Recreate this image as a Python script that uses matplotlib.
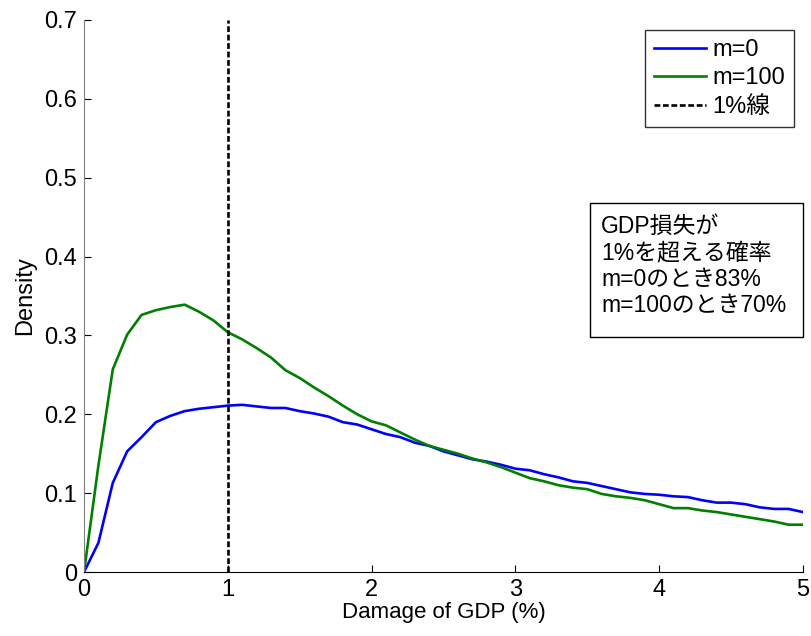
import numpy as np
import matplotlib
matplotlib.use("Agg")
import matplotlib.pyplot as plt
from matplotlib.patches import Rectangle

plt.rcParams["font.family"] = ["Liberation Sans", "Noto Sans CJK JP", "DejaVu Sans"]

# damage of GDP (%) grid
x = np.round(np.arange(0, 5.01, 0.1), 1)

# m=0 density
m0 = [0.000, 0.037, 0.113, 0.153, 0.171, 0.190, 0.198, 0.204, 0.207, 0.209,
      0.211, 0.212, 0.210, 0.208, 0.208, 0.204, 0.201, 0.197, 0.190, 0.187,
      0.181, 0.175, 0.171, 0.164, 0.160, 0.153, 0.148, 0.143, 0.140, 0.136,
      0.131, 0.129, 0.124, 0.120, 0.115, 0.113, 0.109, 0.105, 0.101, 0.099,
      0.098, 0.096, 0.095, 0.091, 0.088, 0.088, 0.086, 0.082, 0.080, 0.080,
      0.076]

# m=100 density
m100 = [0.000, 0.135, 0.257, 0.301, 0.326, 0.332, 0.336, 0.339, 0.330, 0.319,
        0.304, 0.295, 0.284, 0.272, 0.256, 0.246, 0.234, 0.223, 0.211, 0.200,
        0.191, 0.186, 0.177, 0.168, 0.160, 0.155, 0.150, 0.144, 0.139, 0.133,
        0.126, 0.119, 0.115, 0.110, 0.107, 0.105, 0.099, 0.096, 0.094, 0.091,
        0.086, 0.081, 0.081, 0.078, 0.076, 0.073, 0.070, 0.067, 0.064, 0.060,
        0.060]

fig = plt.figure(figsize=(8.11, 6.36), dpi=100)
ax = fig.add_axes([0.1036, 0.1006, 0.8865, 0.868])

ax.plot(x, m0, color="#0000ff", lw=1.9, label="m=0")
ax.plot(x, m100, color="#007f00", lw=1.9, label="m=100")
ax.plot([1, 1], [0, 0.7], color="black", lw=1.9, ls=(0, (2.2, 1)), label="1%線")

ax.set_xlim(0, 5)
ax.set_ylim(0, 0.7)
ax.set_xticks([0, 1, 2, 3, 4, 5])
ax.set_yticks([0, 0.1, 0.2, 0.3, 0.4, 0.5, 0.6, 0.7])
ax.set_yticklabels(["0", "0.1", "0.2", "0.3", "0.4", "0.5", "0.6", "0.7"])
ax.tick_params(direction="in", length=5, labelsize=17)
ax.tick_params(axis="y", pad=5)
ax.tick_params(axis="x", pad=5)

ax.spines["top"].set_visible(False)
ax.spines["right"].set_visible(False)
ax.spines["left"].set_color("#808080")
ax.spines["bottom"].set_color("black")

ax.set_xlabel("Damage of GDP (%)", fontsize=16, labelpad=1)
ax.set_ylabel("Density", fontsize=17, labelpad=6)

leg = ax.legend(loc="upper right", bbox_to_anchor=(0.988, 0.982), fontsize=17,
                frameon=True, fancybox=False, edgecolor="black",
                handlelength=2.2, borderpad=0.38, labelspacing=0.28,
                handletextpad=0.3, borderaxespad=0)
leg.get_frame().set_linewidth(1.0)

# annotation box (fixed size, touching right edge)
ax.add_patch(Rectangle((0.7038, 0.4257), 0.2962, 0.2428, transform=ax.transAxes,
                       facecolor="white", edgecolor="black", lw=1.0,
                       clip_on=False, zorder=4))
ax.text(0.719, 0.646, "GDP損失が\n1%を超える確率\nm=0のとき83%\nm=100のとき70%",
        transform=ax.transAxes, fontsize=16.5, va="top", ha="left",
        linespacing=1.17, zorder=5)

fig.savefig("out.png", dpi=100)
